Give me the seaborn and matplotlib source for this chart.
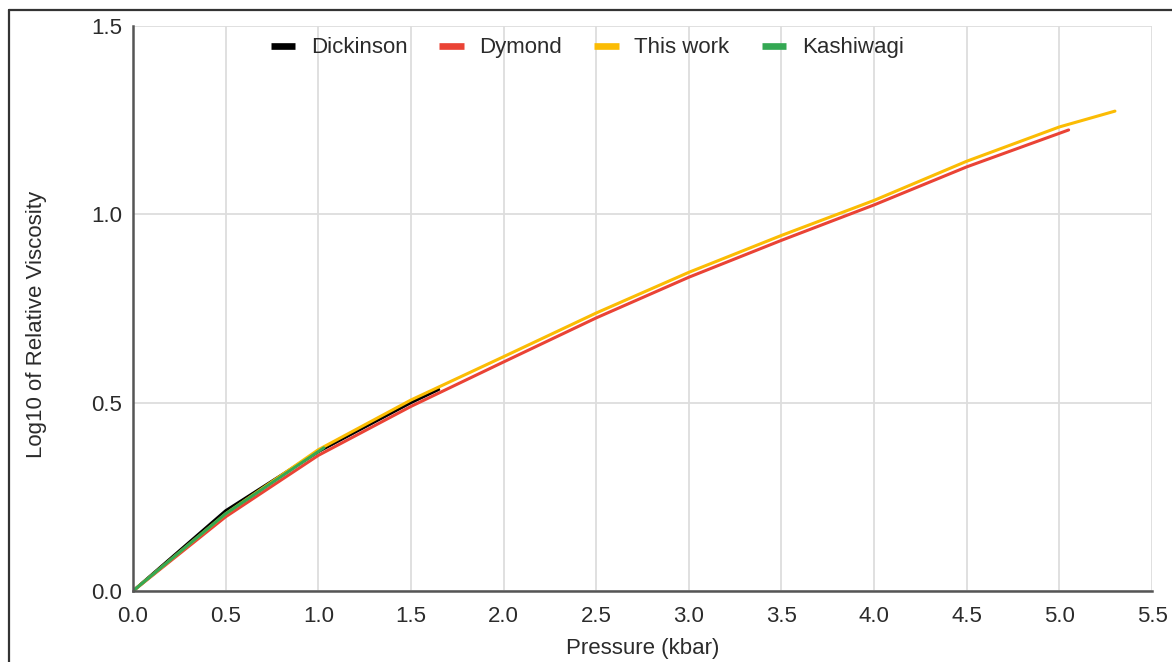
import numpy as np
import pandas as pd
import matplotlib
matplotlib.use("Agg")
import matplotlib.pyplot as plt
from matplotlib.lines import Line2D
from matplotlib.ticker import FormatStrFormatter, MultipleLocator
import seaborn as sns

# ---- data ----
series_names = ["Dickinson", "Dymond", "This work", "Kashiwagi"]
series_colors = ["#000000", "#ea4335", "#fbbc04", "#34a853"]

dickinson_p = [0.0, 0.5, 1.0, 1.5, 1.65]
dickinson_v = [0.0, 0.213, 0.370, 0.500, 0.535]

dymond_p = [0.0, 0.5, 1.0, 1.5, 2.0, 2.5, 3.0, 3.5, 4.0, 4.5, 5.05]
dymond_v = [0.0, 0.197, 0.360, 0.490, 0.608, 0.725, 0.833, 0.931, 1.025, 1.126, 1.224]

thiswork_p = [0.0, 0.5, 1.0, 1.5, 2.0, 2.5, 3.0, 3.5, 4.0, 4.5, 5.0, 5.3]
thiswork_v = [0.0, 0.205, 0.375, 0.507, 0.622, 0.738, 0.846, 0.944, 1.037, 1.141, 1.232, 1.274]

kashiwagi_p = [0.0, 0.5, 1.03]
kashiwagi_v = [0.0, 0.205, 0.380]

x_label = "Pressure (kbar)"
y_label = "Log10 of Relative Viscosity"

frames = []
for name, p, v in [("Dickinson", dickinson_p, dickinson_v),
                   ("Dymond", dymond_p, dymond_v),
                   ("This work", thiswork_p, thiswork_v),
                   ("Kashiwagi", kashiwagi_p, kashiwagi_v)]:
    frames.append(pd.DataFrame({"Pressure": p, "Value": v, "Series": name}))
df = pd.concat(frames, ignore_index=True)

# ---- style ----
sns.set_theme(style="white")
plt.rcParams["font.family"] = ["Liberation Sans", "DejaVu Sans"]
text_color = "#2b2b2b"
fs = 16

W, H = 1172, 662
fig = plt.figure(figsize=(W / 100, H / 100), dpi=100)
ax = fig.add_axes([133 / W, 1 - 591 / H, (1152 - 133) / W, (591 - 26) / H])

sns.lineplot(data=df, x="Pressure", y="Value", hue="Series",
             hue_order=series_names, palette=series_colors,
             estimator=None, sort=False, linewidth=2.2, legend=False, ax=ax)

ax.set_xlim(0, 5.5)
ax.set_ylim(0, 1.5)
ax.xaxis.set_major_locator(MultipleLocator(0.5))
ax.yaxis.set_major_locator(MultipleLocator(0.5))
ax.xaxis.set_major_formatter(FormatStrFormatter("%.1f"))
ax.yaxis.set_major_formatter(FormatStrFormatter("%.1f"))

ax.grid(True, color="#dddddd", linewidth=1.3)
ax.set_axisbelow(True)
for s in ["top", "right"]:
    ax.spines[s].set_visible(False)
for s in ["left", "bottom"]:
    ax.spines[s].set_color("#555555")
    ax.spines[s].set_linewidth(1.8)
    ax.spines[s].set_zorder(3)

ax.tick_params(axis="x", length=0, pad=11, labelsize=fs, labelcolor=text_color)
ax.tick_params(axis="y", length=0, pad=8, labelsize=fs, labelcolor=text_color)

ax.set_xlabel(x_label, fontsize=fs, color=text_color, labelpad=8)
ax.set_ylabel(y_label, fontsize=fs, color=text_color)
ax.yaxis.set_label_coords(-0.084, 0.4726)

handles = [Line2D([0], [0], color=c, linewidth=4.8, solid_capstyle="butt")
           for c in series_colors]
fig.legend(handles, series_names, loc="center", bbox_to_anchor=(0.501, 0.9275),
           ncol=4, frameon=False, fontsize=fs, handlelength=1.1,
           handletextpad=0.7, columnspacing=1.45, labelcolor=text_color)

# screenshot frame (left and top edges)
fig.add_artist(Line2D([8.5 / W, 8.5 / W], [0, 1 - 9.5 / H], transform=fig.transFigure,
                      color="#333333", linewidth=1.6))
fig.add_artist(Line2D([8.5 / W, 1], [1 - 9.5 / H, 1 - 9.5 / H], transform=fig.transFigure,
                      color="#333333", linewidth=1.6))

fig.savefig("out.png", dpi=100)
